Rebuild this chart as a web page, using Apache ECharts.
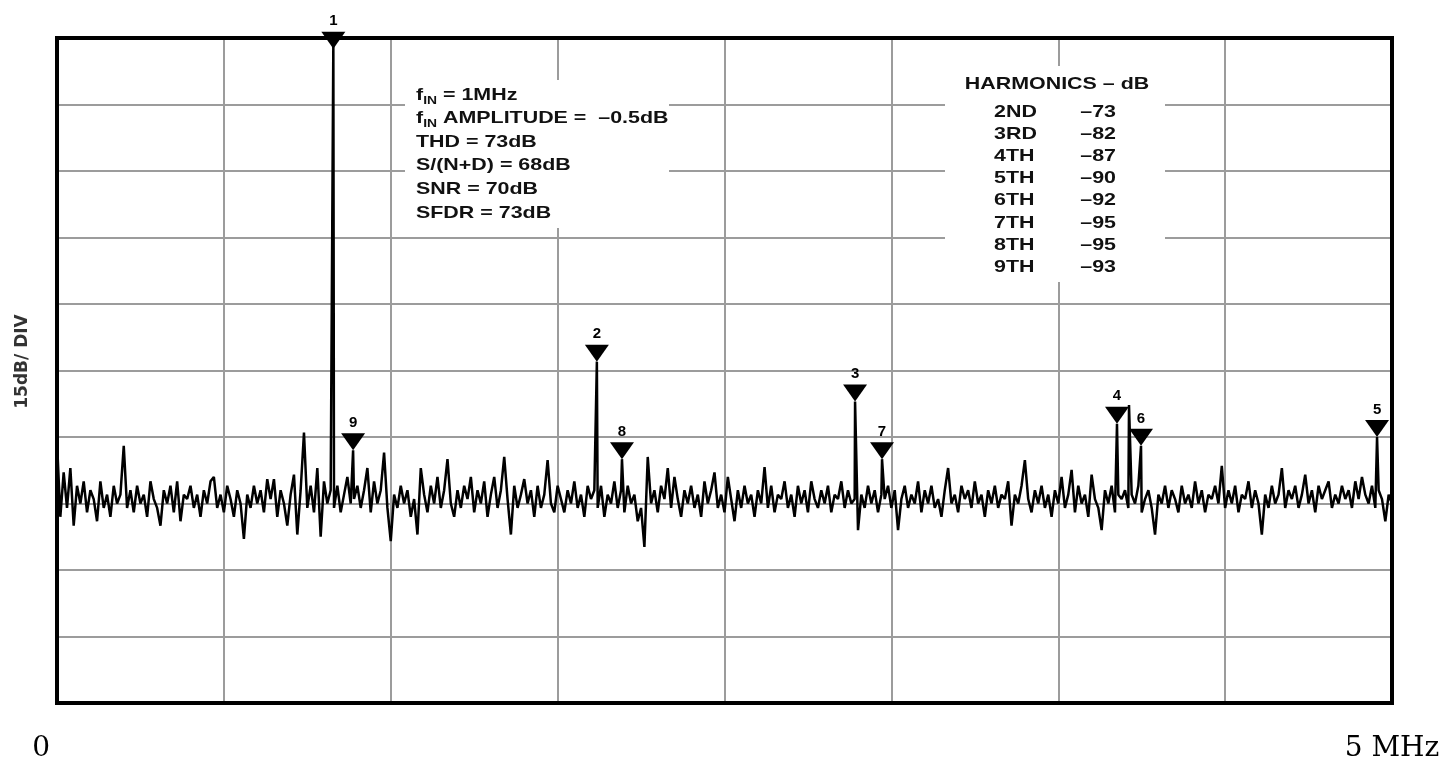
<!DOCTYPE html>
<html>
<head>
<meta charset="utf-8">
<title>FFT spectrum, fIN = 1MHz</title>
<script src="https://cdn.jsdelivr.net/npm/echarts@6/dist/echarts.min.js"></script>
<style>
  html, body { margin: 0; padding: 0; background: #fff; }
  #chart { width: 1445px; height: 765px; }
</style>
</head>
<body>
<div id="chart"></div>
<script>
// FFT bin spacing of the noise trace, MHz
const binStepMHz = 0.0125;

// Noise floor, one value per bin from 0 to 5 MHz (dB)
const noiseDb = [
  -91, -108, -98, -106, -97, -110, -101, -105, -100, -107,
  -102, -104, -109, -100, -106, -103, -108, -101, -105, -103,
  -92, -106, -102, -107, -101, -105, -103, -108, -100, -104,
  -106, -110, -102, -105, -101, -107, -100, -109, -103, -104,
  -101, -106, -103, -108, -102, -105, -100, -99, -106, -103,
  -107, -101, -104, -108, -102, -105, -113, -103, -106, -101,
  -105, -102, -107, -99.5, -104, -99.5, -108, -102, -105, -110,
  -103, -98.5, -112, -102, -89, -106, -101, -107, -97, -112.5,
  -100, -105, -102, -106, -101, -107, -103, -99, -105, -104,
  -101, -106, -102, -97, -107, -100, -105, -102, -93.5, -106,
  -113.5, -103, -106, -101, -105, -102, -108, -104, -112, -97,
  -103, -107, -101, -105, -99, -106, -102, -95, -105, -108,
  -102, -106, -101, -104, -99, -107, -102, -105, -100, -108,
  -103, -99, -106, -102, -94.5, -104, -112, -101, -106, -103,
  -99.5, -105, -102, -108, -101, -106, -103, -95.2, -105, -107,
  -101, -104, -107, -102, -105, -100, -106, -103, -108, -101,
  -104, -102, -106, -101, -108, -103, -105, -100, -106, -102,
  -107, -101, -105, -103, -109, -106, -114.8, -94.5, -105, -102,
  -107, -101, -104, -97, -106, -99, -104, -108, -102, -105,
  -101, -106, -103, -108, -100, -105, -102, -98, -106, -103,
  -107, -99, -104, -109, -102, -106, -101, -105, -103, -108,
  -102, -105, -96.8, -106, -101, -107, -103, -104, -100, -106,
  -103, -108, -101, -105, -102, -107, -100, -104, -106, -102,
  -105, -101, -107, -103, -104, -100, -106, -102, -105, -104,
  -111, -103, -106, -101, -105, -102, -107, -103, -104, -101,
  -106, -102, -111, -104, -101, -106, -103, -105, -100, -107,
  -102, -105, -101, -106, -104, -108, -102, -97, -105, -103,
  -107, -101, -104, -102, -106, -100, -105, -103, -108, -102,
  -105, -101, -106, -103, -104, -100, -110, -103, -105, -101,
  -95.2, -104, -107, -102, -105, -101, -106, -103, -108, -102,
  -105, -99, -106, -103, -97.4, -107, -101, -105, -103, -108,
  -98.5, -104, -106, -111, -102, -105, -101, -107, -103, -104,
  -102, -106, -103, -105, -101, -107, -104, -102, -106, -112,
  -103, -105, -101, -106, -102, -104, -107, -101, -105, -103,
  -106, -100, -105, -102, -107, -103, -104, -101, -105, -96.5,
  -106, -102, -105, -101, -107, -103, -104, -100, -106, -102,
  -105, -112, -103, -106, -101, -105, -103, -97, -106, -102,
  -104, -101, -106, -103, -98.5, -105, -102, -107, -101, -104,
  -102, -100, -106, -103, -105, -101, -104, -102, -106, -100,
  -104, -99, -103, -105, -101, -106, -102, -104, -109, -103,
  -105
];

// Fundamental (1) and harmonics 2..9, aliased into 0..5 MHz
const harmonicNo   = [1, 2, 3, 4, 5, 6, 7, 8, 9];
const harmonicFreq = [1.035, 2.022, 2.989, 3.970, 4.944, 4.060, 3.090, 2.116, 1.109];
const harmonicDb   = [-0.5, -73, -82, -87, -90, -92, -95, -95, -93];

// Unmarked spur next to the 4th harmonic
const spurFreq = [4.015];
const spurDb   = [-82.8];

// Axis ticks and texts
const xTickLabels = ['0', '5 MHz'];
const yAxisName = '15dB/ DIV';
const conditionLines = [
  '{m|f}{s|IN}{m| = 1MHz}',
  '{m|f}{s|IN}{m| AMPLITUDE =  \u20130.5dB}',
  '{m|THD = 73dB}',
  '{m|S/(N+D) = 68dB}',
  '{m|SNR = 70dB}',
  '{m|SFDR = 73dB}'
];
const harmonicTitle = 'HARMONICS \u2013 dB';
const harmonicNames = ['2ND', '3RD', '4TH', '5TH', '6TH', '7TH', '8TH', '9TH'];
const harmonicTable = ['\u201373', '\u201382', '\u201387', '\u201390', '\u201392', '\u201395', '\u201395', '\u201393'];

// Build the spectrum trace: noise bins plus the spectral lines, ordered by frequency
const trace = noiseDb.map((v, i) => [i * binStepMHz, v]);
harmonicFreq.forEach((f, k) => trace.push([f, harmonicDb[k]]));
spurFreq.forEach((f, k) => trace.push([f, spurDb[k]]));
trace.sort((a, b) => a[0] - b[0]);

const SANS = '"Liberation Sans", Arial, Helvetica, sans-serif';
const STRETCH = 1.26;

const markerData = harmonicNo.map((n, k) => ({
  name: String(n),
  coord: [harmonicFreq[k], harmonicDb[k]],
  // the fundamental runs off the top of the display: its marker sits on the top edge
  symbolOffset: harmonicDb[k] > -3 ? [0, 0] : [0, '-50%']
}));

const graphics = [];

// white panel behind the test conditions
graphics.push({
  type: 'rect', z: 10, silent: true,
  shape: { x: 405, y: 80, width: 264, height: 148 },
  style: { fill: '#fff' }
});
conditionLines.forEach((t, k) => {
  graphics.push({
    type: 'text', z: 20, silent: true,
    x: 416, y: 95 + k * 23.6, scaleX: STRETCH,
    style: {
      text: t,
      align: 'left', verticalAlign: 'middle',
      rich: {
        m: { fontSize: 17, fontWeight: 'bold', fontFamily: SANS, fill: '#111', lineHeight: 22, verticalAlign: 'middle' },
        s: { fontSize: 11, fontWeight: 'bold', fontFamily: SANS, fill: '#111', lineHeight: 13, verticalAlign: 'bottom' }
      }
    }
  });
});

// white panel behind the harmonics table
graphics.push({
  type: 'rect', z: 10, silent: true,
  shape: { x: 945, y: 66, width: 220, height: 216 },
  style: { fill: '#fff' }
});
graphics.push({
  type: 'text', z: 20, silent: true,
  x: 1057, y: 84, scaleX: STRETCH,
  style: { text: harmonicTitle, align: 'center', verticalAlign: 'middle',
           fontSize: 17, fontWeight: 'bold', fontFamily: SANS, fill: '#111' }
});
harmonicNames.forEach((name, k) => {
  const y = 112 + k * 22.2;
  graphics.push({
    type: 'text', z: 20, silent: true, x: 994, y: y, scaleX: STRETCH,
    style: { text: name, align: 'left', verticalAlign: 'middle',
             fontSize: 17, fontWeight: 'bold', fontFamily: SANS, fill: '#111' }
  });
  graphics.push({
    type: 'text', z: 20, silent: true, x: 1116, y: y, scaleX: STRETCH,
    style: { text: harmonicTable[k], align: 'right', verticalAlign: 'middle',
             fontSize: 17, fontWeight: 'bold', fontFamily: SANS, fill: '#111' }
  });
});

// heavy display frame
graphics.push({
  type: 'rect', z: 30, silent: true,
  shape: { x: 57, y: 38, width: 1335, height: 665 },
  style: { fill: null, stroke: '#000', lineWidth: 4 }
});

const chart = echarts.init(document.getElementById('chart'), null, { renderer: 'canvas' });
chart.setOption({
  animation: false,
  backgroundColor: '#fff',
  grid: { left: 57, top: 38, width: 1335, height: 665, show: false },
  xAxis: {
    type: 'value', min: 0, max: 5, interval: 0.625,
    axisLine: { show: false }, axisTick: { show: false },
    splitLine: { show: true, lineStyle: { color: '#9c9c9c', width: 2 } },
    axisLabel: {
      show: true, margin: 32,
      showMinLabel: true, showMaxLabel: true,
      alignMinLabel: 'right', alignMaxLabel: 'center',
      fontFamily: '"DejaVu Serif", "Liberation Serif", serif',
      fontSize: 28, color: '#000',
      formatter: v => (v === 0 ? '{z|' + xTickLabels[0] + '}' : (v === 5 ? xTickLabels[1] : '')),
      rich: { z: { fontFamily: '"DejaVu Serif", "Liberation Serif", serif', fontSize: 28, color: '#000', padding: [0, 7, 0, 0] } }
    }
  },
  yAxis: {
    type: 'value', min: -150, max: 0, interval: 15,
    axisLine: { show: false }, axisTick: { show: false }, axisLabel: { show: false },
    splitLine: { show: true, lineStyle: { color: '#9c9c9c', width: 2 } },
    name: yAxisName, nameLocation: 'middle', nameRotate: 90, nameGap: 26,
    nameTextStyle: { fontFamily: '"DejaVu Sans", sans-serif', fontWeight: 'bold', fontSize: 17, color: '#333', padding: [0, 0, 0, 18] }
  },
  series: [{
    type: 'line',
    data: trace,
    showSymbol: false,
    clip: true,
    lineStyle: { color: '#000', width: 2.5 },
    z: 5,
    markPoint: {
      symbol: 'path://M0,0L24,0L12,17Z',
      symbolSize: [24, 17],
      itemStyle: { color: '#000' },
      label: {
        show: true, position: 'top', distance: 3,
        formatter: '{b}', color: '#000',
        fontFamily: SANS, fontWeight: 'bold', fontSize: 15
      },
      data: markerData
    }
  }],
  graphic: graphics
});
</script>
</body>
</html>
